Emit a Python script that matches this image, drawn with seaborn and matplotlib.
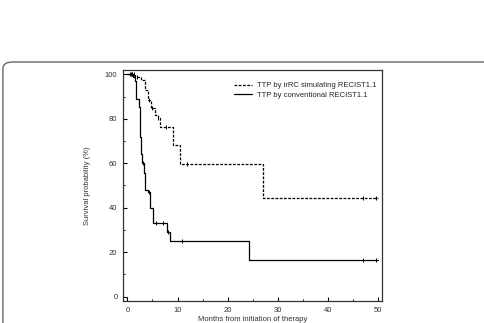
import matplotlib
matplotlib.use("Agg")
import matplotlib.pyplot as plt
import seaborn as sns
import pandas as pd
from matplotlib.patches import FancyBboxPatch

# step curves (months, survival %)
irrc_t = [0, 1.5, 2.8, 3.5, 4.1, 4.8, 5.5, 6.1, 6.6, 9.1, 10.5, 27.0, 50.0]
irrc_s = [100, 99, 97.5, 93, 88.5, 84.7, 81.7, 80.3, 76.5, 68, 59.5, 44.5, 44.5]
conv_t = [0, 1.2, 1.5, 1.8, 2.3, 2.6, 2.8, 3.0, 3.3, 3.6, 4.1, 4.6, 5.1, 7.9, 8.4, 24.3, 50.0]
conv_s = [100, 99, 97, 89, 85.5, 72, 64, 60, 55.5, 48, 47, 40, 33, 29, 25, 16.5, 16.5]

# censored observations
irrc_cens_t = [0.6, 1.0, 1.3, 2.0, 4.3, 5.0, 6.2, 7.6, 11.8, 47.0, 49.6]
irrc_cens_s = [100, 100, 100, 99, 88.5, 84.7, 80.3, 76.5, 59.5, 44.5, 44.5]
conv_cens_t = [0.8, 1.0, 3.1, 4.3, 5.8, 7.0, 8.1, 10.8, 47.0, 49.7]
conv_cens_s = [100, 100, 60, 47, 33, 33, 29, 25, 16.5, 16.5]

labels = ["TTP by irRC simulating RECIST1.1", "TTP by conventional RECIST1.1"]

sns.set_style("ticks")
plt.rcParams['font.family'] = ['Liberation Sans', 'DejaVu Sans']

fig = plt.figure(figsize=(4.84, 3.23), dpi=100)
frame = FancyBboxPatch((0.006, -0.2), 1.2, 1.008, boxstyle="round,pad=0,rounding_size=0.02",
                       transform=fig.transFigure, fill=False, edgecolor="#666666", linewidth=1.0)
fig.patches.append(frame)

ax = fig.add_axes([0.254, 0.068, 0.536, 0.715])

df1 = pd.DataFrame({"t": irrc_t, "s": irrc_s})
df2 = pd.DataFrame({"t": conv_t, "s": conv_s})
sns.lineplot(data=df1, x="t", y="s", ax=ax, color="black", lw=0.9, drawstyle="steps-post",
             linestyle=(0, (2.2, 1.2)), label=labels[0], estimator=None, sort=False)
sns.lineplot(data=df2, x="t", y="s", ax=ax, color="black", lw=0.9, drawstyle="steps-post",
             label=labels[1], estimator=None, sort=False)
sns.scatterplot(x=irrc_cens_t, y=irrc_cens_s, ax=ax, marker="|", color="black", s=8, linewidth=0.7, legend=False)
sns.scatterplot(x=conv_cens_t, y=conv_cens_s, ax=ax, marker="|", color="black", s=8, linewidth=0.7, legend=False)

ax.set_xlim(-0.9, 50.9)
ax.set_ylim(-2, 101.9)
ax.set_xticks(range(0, 51, 10))
ax.set_xticks(range(5, 51, 10), minor=True)
ax.set_yticks(range(0, 101, 20))
ax.set_yticks(range(10, 101, 20), minor=True)
ax.tick_params(axis="both", which="major", direction="in", length=3, width=0.8, labelsize=5.5,
               colors="black", labelcolor="#333333", pad=4)
ax.tick_params(axis="both", which="minor", direction="in", length=1.5, width=0.8)
for sp in ax.spines.values():
    sp.set_linewidth(0.9)
    sp.set_color("#333333")

ax.set_xlabel("Months from initiation of therapy", fontsize=5.5, color="#333333", labelpad=1.5)
ax.set_ylabel("Survival probability (%)", fontsize=5.5, color="#333333", labelpad=10)

ax.legend(loc="upper right", frameon=False, fontsize=5.5, handlelength=2.4, handletextpad=0.6,
          labelspacing=0.3, bbox_to_anchor=(1.0, 0.975), borderaxespad=0.4)

fig.savefig("out.png", dpi=100)
